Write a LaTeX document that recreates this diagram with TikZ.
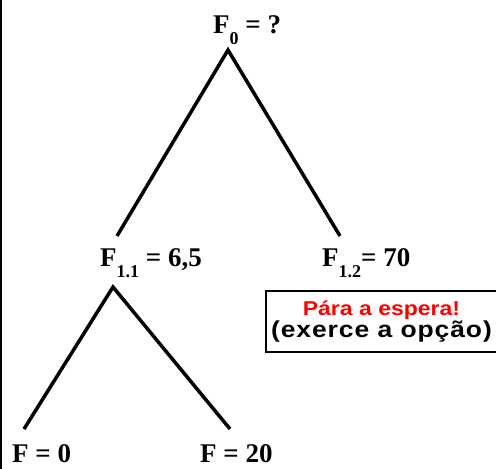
\documentclass[tikz,border=0pt]{standalone}
\usepackage{fontspec}
\setmainfont{Liberation Serif}
\newfontfamily\redfont[FakeStretch=1.15]{Liberation Sans}
\newfontfamily\blkfont[FakeStretch=1.15,LetterSpace=4]{Liberation Sans}
\newcommand{\lowidx}[1]{\raisebox{-11pt}{\fontsize{18}{18}\selectfont #1}}

\begin{document}
\begin{tikzpicture}[x=1pt,y=-1pt,
    val/.style={font=\fontsize{27}{30}\selectfont\bfseries, inner sep=0pt, anchor=base west},
    branch/.style={line width=3.5pt}]
    \useasboundingbox (0,0) rectangle (496,469);
    % Frame
    \draw[line width=2pt] (1,0) -- (1,469);

    % Values
    \node[val] (f0) at (213,33) {F\lowidx{0} = ?};
    \node[val] (f11) at (100,266) {F\lowidx{1.1} = 6,5};
    \node[val] (f12) at (322,266) {F\lowidx{1.2}= 70};
    \node[val] (fa) at (12,462) {F = 0};
    \node[val] (fb) at (200,462) {F = 20};

    % Branch points
    \coordinate (p0) at (228,50);
    \coordinate (p0a) at (117,236);
    \coordinate (p0b) at (340,236);
    \coordinate (p1) at (113,287);
    \coordinate (p1a) at (24,429);
    \coordinate (p1b) at (230,429);

    % Branches
    \draw[branch] (p0a) -- (p0) -- (p0b);
    \draw[branch] (p1a) -- (p1) -- (p1b);

    % Decision
    \node[draw, line width=2.5pt, minimum width=231, minimum height=61, inner sep=0pt,
        align=center, font=\bfseries]
        (stop) at (381.5,321.5)
        {\redfont\fontsize{20}{22}\selectfont\textcolor{red}{Pára a espera!}\\
         \blkfont\fontsize{23}{22}\selectfont (exerce a opção)};
\end{tikzpicture}
\end{document}
